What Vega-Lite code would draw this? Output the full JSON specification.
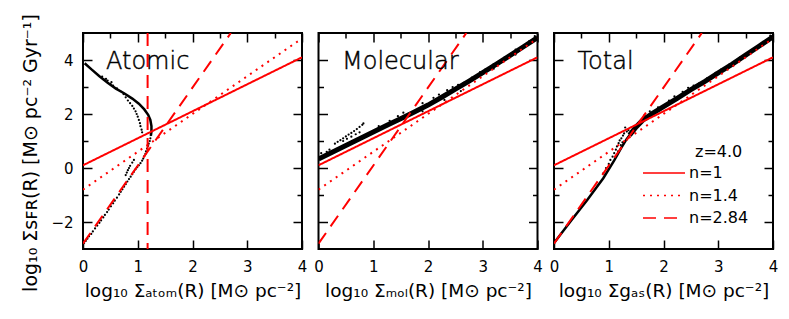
{
 "$schema": "https://vega.github.io/schema/vega-lite/v6.json",
 "background": "white",
 "padding": {"left": 20, "top": 12, "right": 5, "bottom": 5},
 "spacing": 16.5,
 "bounds": "flush",
 "datasets": {
  "fits": [
   {"n": "n=1", "x": 0, "y": 0.1}, {"n": "n=1", "x": 4, "y": 4.1},
   {"n": "n=1.4", "x": 0, "y": -0.8}, {"n": "n=1.4", "x": 4, "y": 4.8},
   {"n": "n=2.84", "x": 0, "y": -2.8}, {"n": "n=2.84", "x": 2.7, "y": 5.0}
  ],
  "atomic_line": [
   {"i": 1, "x": 0.03, "y": 3.88}, {"i": 2, "x": 0.15, "y": 3.66}, {"i": 3, "x": 0.3, "y": 3.4},
   {"i": 4, "x": 0.45, "y": 3.16}, {"i": 5, "x": 0.6, "y": 2.94}, {"i": 6, "x": 0.75, "y": 2.77},
   {"i": 7, "x": 0.9, "y": 2.57}, {"i": 8, "x": 1.02, "y": 2.38}, {"i": 9, "x": 1.12, "y": 2.17},
   {"i": 10, "x": 1.19, "y": 1.97}, {"i": 11, "x": 1.23, "y": 1.78}, {"i": 12, "x": 1.25, "y": 1.55},
   {"i": 13, "x": 1.25, "y": 1.35}, {"i": 14, "x": 1.24, "y": 1.2}
  ],
  "atomic_dots": [
   {"x": 1.24, "y": 1.22}, {"x": 1.23, "y": 1.1}, {"x": 1.22, "y": 1.0}, {"x": 1.2, "y": 0.9},
   {"x": 1.19, "y": 0.82}, {"x": 1.17, "y": 0.72}, {"x": 1.15, "y": 0.62}, {"x": 1.14, "y": 0.52},
   {"x": 1.12, "y": 0.44}, {"x": 1.1, "y": 0.35}, {"x": 1.08, "y": 0.27}, {"x": 1.05, "y": 0.18},
   {"x": 1.02, "y": 0.1}, {"x": 0.99, "y": 0.03}, {"x": 0.96, "y": -0.05}, {"x": 0.93, "y": -0.14},
   {"x": 0.9, "y": -0.23}, {"x": 0.87, "y": -0.32}, {"x": 0.84, "y": -0.41}, {"x": 0.81, "y": -0.5},
   {"x": 0.78, "y": -0.6}, {"x": 0.75, "y": -0.69}, {"x": 0.72, "y": -0.79}, {"x": 0.69, "y": -0.88},
   {"x": 0.66, "y": -0.98}, {"x": 0.62, "y": -1.1}, {"x": 0.58, "y": -1.21}, {"x": 0.55, "y": -1.31},
   {"x": 0.51, "y": -1.42}, {"x": 0.47, "y": -1.54}, {"x": 0.44, "y": -1.63}, {"x": 0.4, "y": -1.74},
   {"x": 0.37, "y": -1.83}, {"x": 0.33, "y": -1.94}, {"x": 0.3, "y": -2.03}, {"x": 0.26, "y": -2.13},
   {"x": 0.22, "y": -2.24}, {"x": 0.18, "y": -2.35}, {"x": 0.15, "y": -2.44}, {"x": 0.11, "y": -2.53},
   {"x": 0.08, "y": -2.62}, {"x": 0.05, "y": -2.7}, {"x": 0.02, "y": -2.78},
   {"x": 0.86, "y": 0.08}, {"x": 0.84, "y": 0.0}, {"x": 0.82, "y": -0.08}, {"x": 0.8, "y": -0.17},
   {"x": 0.78, "y": -0.26}, {"x": 0.9, "y": 0.2}, {"x": 0.93, "y": 0.3},
   {"x": 0.5, "y": 3.12}, {"x": 0.55, "y": 3.05}, {"x": 0.62, "y": 2.95}, {"x": 0.68, "y": 2.85},
   {"x": 0.74, "y": 2.74}, {"x": 0.78, "y": 2.62}, {"x": 0.82, "y": 2.5}, {"x": 0.86, "y": 2.4},
   {"x": 0.9, "y": 2.3}, {"x": 0.93, "y": 2.2}, {"x": 0.96, "y": 2.1}, {"x": 0.98, "y": 2.0},
   {"x": 1.0, "y": 1.9}, {"x": 1.02, "y": 1.78}, {"x": 1.04, "y": 1.66}, {"x": 1.05, "y": 1.55},
   {"x": 1.07, "y": 1.42}, {"x": 1.08, "y": 1.32},
   {"x": 0.35, "y": 3.38}, {"x": 0.42, "y": 3.3}, {"x": 0.45, "y": 3.24}, {"x": 0.52, "y": 3.18}, {"x": 0.38, "y": 3.28}
  ],
  "mol_line": [
   {"x": 0.0, "y": 0.33}, {"x": 0.25, "y": 0.58}, {"x": 0.5, "y": 0.83}, {"x": 0.75, "y": 1.08},
   {"x": 1.0, "y": 1.33}, {"x": 1.25, "y": 1.58}, {"x": 1.5, "y": 1.82}, {"x": 1.75, "y": 2.07},
   {"x": 2.0, "y": 2.33}, {"x": 2.25, "y": 2.62}, {"x": 2.5, "y": 2.92}, {"x": 2.75, "y": 3.22},
   {"x": 3.0, "y": 3.53}, {"x": 3.25, "y": 3.85}, {"x": 3.5, "y": 4.17}, {"x": 3.75, "y": 4.5},
   {"x": 4.0, "y": 4.83}
  ],
  "mol_dots": [
   {"x": 0.3, "y": 0.9}, {"x": 0.35, "y": 0.97}, {"x": 0.4, "y": 1.03}, {"x": 0.45, "y": 1.1},
   {"x": 0.5, "y": 1.17}, {"x": 0.55, "y": 1.24}, {"x": 0.6, "y": 1.3}, {"x": 0.65, "y": 1.37},
   {"x": 0.7, "y": 1.44}, {"x": 0.75, "y": 1.52}, {"x": 0.8, "y": 1.6}, {"x": 0.82, "y": 1.65},
   {"x": 0.45, "y": 1.0}, {"x": 0.52, "y": 1.08}, {"x": 0.6, "y": 1.16}, {"x": 0.68, "y": 1.25}, {"x": 0.75, "y": 1.32},
   {"x": 0.05, "y": 0.55}, {"x": 0.15, "y": 0.6}, {"x": 0.2, "y": 0.68}, {"x": 1.1, "y": 1.55},
   {"x": 1.3, "y": 1.75}, {"x": 1.45, "y": 1.92}, {"x": 1.55, "y": 2.05}, {"x": 1.9, "y": 2.4},
   {"x": 2.1, "y": 2.6}, {"x": 2.2, "y": 2.72}, {"x": 2.35, "y": 2.88}, {"x": 2.45, "y": 3.0},
   {"x": 2.55, "y": 3.08}, {"x": 2.65, "y": 3.15}, {"x": 2.8, "y": 3.35}, {"x": 2.95, "y": 3.55},
   {"x": 3.05, "y": 3.65}, {"x": 3.2, "y": 3.85}, {"x": 3.4, "y": 4.1}, {"x": 3.6, "y": 4.38},
   {"x": 3.85, "y": 4.7}, {"x": 3.95, "y": 4.88},
   {"x": 1.9, "y": 2.1}, {"x": 2.3, "y": 2.52}, {"x": 2.6, "y": 2.85}, {"x": 3.2, "y": 3.68}, {"x": 3.6, "y": 4.2}
  ],
  "tot_low": [
   {"x": 0.0, "y": -2.78}, {"x": 0.3, "y": -1.98}, {"x": 0.6, "y": -1.2}, {"x": 0.9, "y": -0.38},
   {"x": 1.1, "y": 0.28}, {"x": 1.22, "y": 0.72}, {"x": 1.32, "y": 1.05}, {"x": 1.42, "y": 1.32}
  ],
  "tot_high": [
   {"x": 1.38, "y": 1.22}, {"x": 1.5, "y": 1.52}, {"x": 1.62, "y": 1.77}, {"x": 1.8, "y": 2.02},
   {"x": 2.0, "y": 2.27}, {"x": 2.25, "y": 2.58}, {"x": 2.5, "y": 2.9}, {"x": 2.75, "y": 3.2},
   {"x": 3.0, "y": 3.52}, {"x": 3.25, "y": 3.84}, {"x": 3.5, "y": 4.18}, {"x": 3.75, "y": 4.52},
   {"x": 4.0, "y": 4.86}
  ],
  "tot_dots": [
   {"x": 0.9, "y": -0.2}, {"x": 0.95, "y": 0.0}, {"x": 1.0, "y": 0.15}, {"x": 1.03, "y": 0.3},
   {"x": 1.07, "y": 0.42}, {"x": 1.1, "y": 0.55}, {"x": 1.13, "y": 0.68}, {"x": 1.15, "y": 0.8},
   {"x": 1.18, "y": 0.92}, {"x": 1.2, "y": 1.02}, {"x": 1.23, "y": 1.1}, {"x": 1.26, "y": 1.2},
   {"x": 1.28, "y": 1.28}, {"x": 1.3, "y": 1.5}, {"x": 1.33, "y": 1.35}, {"x": 1.36, "y": 1.4},
   {"x": 1.17, "y": 0.62}, {"x": 1.22, "y": 0.85}, {"x": 1.25, "y": 0.95},
   {"x": 1.9, "y": 2.25}, {"x": 2.1, "y": 2.5}, {"x": 2.2, "y": 2.65}, {"x": 2.35, "y": 2.82},
   {"x": 2.45, "y": 2.97}, {"x": 2.55, "y": 3.05}, {"x": 2.65, "y": 3.13}, {"x": 2.8, "y": 3.33},
   {"x": 2.95, "y": 3.52}, {"x": 3.05, "y": 3.64}, {"x": 3.2, "y": 3.83}, {"x": 3.4, "y": 4.1},
   {"x": 3.6, "y": 4.36}, {"x": 3.85, "y": 4.7}, {"x": 3.95, "y": 4.9}, {"x": 1.75, "y": 2.1}, {"x": 1.65, "y": 1.95}
  ]
 },
 "hconcat": [
  {
   "width": 219, "height": 216,
   "resolve": {"axis": {"x": "independent", "y": "independent"}},
   "layer": [
    {
     "data": {"name": "atomic_line"},
     "mark": {"type": "line", "color": "black", "strokeWidth": 2.5, "clip": true},
     "encoding": {
      "x": {"field": "x", "type": "quantitative", "scale": {"domain": [0, 4], "nice": false, "zero": false},
       "axis": {"values": [0, 0.5, 1, 1.5, 2, 2.5, 3, 3.5, 4], "format": "d", "labelExpr": "datum.value % 1 === 0 ? datum.label : ''", "title": "log₁₀ Σₐₜₒₘ(R) [M⊙ pc⁻²]", "tickSize": {"expr": "datum.value % 1 === 0 ? -9 : -5"}, "labelPadding": 19}},
      "y": {"field": "y", "type": "quantitative", "scale": {"domain": [-3, 5], "nice": false, "zero": false},
       "axis": {"values": [-2, -1, 0, 1, 2, 3, 4], "labelExpr": "datum.value % 2 === 0 ? datum.label : ''", "title": "log₁₀ Σꜱꜰʀ(R) [M⊙ pc⁻² Gyr⁻¹]", "titleFontSize": 19, "titlePadding": 10, "titleY": 119.5, "tickSize": {"expr": "datum.value % 2 === 0 ? -9 : -5"}, "labelPadding": 19}},
      "order": {"field": "i", "type": "quantitative"}
     }
    },
    {
     "data": {"name": "atomic_dots"},
     "mark": {"type": "circle", "color": "black", "size": 5, "opacity": 1, "clip": true},
     "encoding": {
      "x": {"field": "x", "type": "quantitative", "axis": null},
      "y": {"field": "y", "type": "quantitative", "axis": null}
     }
    },
    {
     "data": {"name": "fits"},
     "mark": {"type": "line", "color": "#ff0000", "strokeWidth": 2, "clip": true},
     "encoding": {
      "x": {"field": "x", "type": "quantitative",
       "axis": {"orient": "top", "values": [0, 0.5, 1, 1.5, 2, 2.5, 3, 3.5, 4], "labels": false, "title": null, "tickSize": {"expr": "datum.value % 1 === 0 ? -9 : -5"}}},
      "y": {"field": "y", "type": "quantitative",
       "axis": {"orient": "right", "values": [-2, -1, 0, 1, 2, 3, 4], "labels": false, "title": null, "tickSize": {"expr": "datum.value % 2 === 0 ? -9 : -5"}}},
      "strokeDash": {"field": "n", "type": "nominal", "scale": {"domain": ["n=1", "n=1.4", "n=2.84"], "range": [[1, 0], [2, 5], [13, 8]]}, "legend": null}
     }
    },
    {
     "data": {"values": [{}]},
     "mark": {"type": "rule", "color": "#ff0000", "strokeWidth": 2, "strokeDash": [13, 8]},
     "encoding": {"x": {"datum": 1.18, "type": "quantitative", "axis": null}}
    },
    {
     "data": {"values": [{"label": "Atomic"}]},
     "mark": {"type": "text", "align": "left", "baseline": "middle", "font": "DejaVu Sans", "fontSize": 24, "fontWeight": 200, "color": "black", "stroke": "black", "strokeWidth": 0.45},
     "encoding": {
      "x": {"datum": 0.42, "type": "quantitative", "axis": null},
      "y": {"datum": 3.93, "type": "quantitative", "axis": null},
      "text": {"field": "label"}
     }
    }
   ]
  },
  {
   "width": 219, "height": 216,
   "resolve": {"axis": {"x": "independent", "y": "independent"}},
   "layer": [
    {
     "data": {"name": "mol_line"},
     "mark": {"type": "line", "color": "black", "strokeWidth": 5, "clip": true},
     "encoding": {
      "x": {"field": "x", "type": "quantitative", "scale": {"domain": [0, 4], "nice": false, "zero": false},
       "axis": {"values": [0, 0.5, 1, 1.5, 2, 2.5, 3, 3.5, 4], "format": "d", "labelExpr": "datum.value % 1 === 0 ? datum.label : ''", "title": "log₁₀ Σₘₒₗ(R) [M⊙ pc⁻²]", "tickSize": {"expr": "datum.value % 1 === 0 ? -9 : -5"}, "labelPadding": 19}},
      "y": {"field": "y", "type": "quantitative", "scale": {"domain": [-3, 5], "nice": false, "zero": false},
       "axis": {"values": [-2, -1, 0, 1, 2, 3, 4], "labels": false, "title": null, "tickSize": {"expr": "datum.value % 2 === 0 ? -9 : -5"}}}
     }
    },
    {
     "data": {"name": "mol_dots"},
     "mark": {"type": "circle", "color": "black", "size": 5, "opacity": 1, "clip": true},
     "encoding": {
      "x": {"field": "x", "type": "quantitative", "axis": null},
      "y": {"field": "y", "type": "quantitative", "axis": null}
     }
    },
    {
     "data": {"name": "fits"},
     "mark": {"type": "line", "color": "#ff0000", "strokeWidth": 2, "clip": true},
     "encoding": {
      "x": {"field": "x", "type": "quantitative",
       "axis": {"orient": "top", "values": [0, 0.5, 1, 1.5, 2, 2.5, 3, 3.5, 4], "labels": false, "title": null, "tickSize": {"expr": "datum.value % 1 === 0 ? -9 : -5"}}},
      "y": {"field": "y", "type": "quantitative",
       "axis": {"orient": "right", "values": [-2, -1, 0, 1, 2, 3, 4], "labels": false, "title": null, "tickSize": {"expr": "datum.value % 2 === 0 ? -9 : -5"}}},
      "strokeDash": {"field": "n", "type": "nominal", "scale": {"domain": ["n=1", "n=1.4", "n=2.84"], "range": [[1, 0], [2, 5], [13, 8]]}, "legend": null}
     }
    },
    {
     "data": {"values": [{"label": "Molecular"}]},
     "mark": {"type": "text", "align": "left", "baseline": "middle", "font": "DejaVu Sans", "fontSize": 24, "fontWeight": 200, "color": "black", "stroke": "black", "strokeWidth": 0.45},
     "encoding": {
      "x": {"datum": 0.43, "type": "quantitative", "axis": null},
      "y": {"datum": 3.93, "type": "quantitative", "axis": null},
      "text": {"field": "label"}
     }
    }
   ]
  },
  {
   "width": 219, "height": 216,
   "resolve": {"axis": {"x": "independent", "y": "independent"}},
   "layer": [
    {
     "data": {"name": "tot_low"},
     "mark": {"type": "line", "color": "black", "strokeWidth": 2.5, "clip": true},
     "encoding": {
      "x": {"field": "x", "type": "quantitative", "scale": {"domain": [0, 4], "nice": false, "zero": false},
       "axis": {"values": [0, 0.5, 1, 1.5, 2, 2.5, 3, 3.5, 4], "format": "d", "labelExpr": "datum.value % 1 === 0 ? datum.label : ''", "title": "log₁₀ Σgₐₛ(R) [M⊙ pc⁻²]", "tickSize": {"expr": "datum.value % 1 === 0 ? -9 : -5"}, "labelPadding": 19}},
      "y": {"field": "y", "type": "quantitative", "scale": {"domain": [-3, 5], "nice": false, "zero": false},
       "axis": {"values": [-2, -1, 0, 1, 2, 3, 4], "labels": false, "title": null, "tickSize": {"expr": "datum.value % 2 === 0 ? -9 : -5"}}}
     }
    },
    {
     "data": {"name": "tot_high"},
     "mark": {"type": "line", "color": "black", "strokeWidth": 5, "clip": true},
     "encoding": {
      "x": {"field": "x", "type": "quantitative", "axis": null},
      "y": {"field": "y", "type": "quantitative", "axis": null}
     }
    },
    {
     "data": {"name": "tot_dots"},
     "mark": {"type": "circle", "color": "black", "size": 5, "opacity": 1, "clip": true},
     "encoding": {
      "x": {"field": "x", "type": "quantitative", "axis": null},
      "y": {"field": "y", "type": "quantitative", "axis": null}
     }
    },
    {
     "data": {"name": "fits"},
     "mark": {"type": "line", "color": "#ff0000", "strokeWidth": 2, "clip": true},
     "encoding": {
      "x": {"field": "x", "type": "quantitative",
       "axis": {"orient": "top", "values": [0, 0.5, 1, 1.5, 2, 2.5, 3, 3.5, 4], "labels": false, "title": null, "tickSize": {"expr": "datum.value % 1 === 0 ? -9 : -5"}}},
      "y": {"field": "y", "type": "quantitative",
       "axis": {"orient": "right", "values": [-2, -1, 0, 1, 2, 3, 4], "labels": false, "title": null, "tickSize": {"expr": "datum.value % 2 === 0 ? -9 : -5"}}},
      "strokeDash": {"field": "n", "type": "nominal", "scale": {"domain": ["n=1", "n=1.4", "n=2.84"], "range": [[1, 0], [2, 5], [13, 8]]},
       "legend": {"orient": "none", "legendX": 88, "legendY": 111, "title": "z=4.0", "titleFontSize": 16, "titleFontWeight": "normal", "titleAnchor": "middle", "titleAlign": "left", "labelFontSize": 16, "symbolType": "stroke", "symbolSize": 1764, "symbolStrokeWidth": 1.5, "clipHeight": 18, "rowPadding": 4.5, "labelOffset": 3, "titlePadding": 4, "padding": 0,
        "encode": {"symbols": {"stroke": {"value": "black"}}}}}
     }
    },
    {
     "data": {"values": [{"label": "Total"}]},
     "mark": {"type": "text", "align": "left", "baseline": "middle", "font": "DejaVu Sans", "fontSize": 24, "fontWeight": 200, "color": "black", "stroke": "black", "strokeWidth": 0.45},
     "encoding": {
      "x": {"datum": 0.43, "type": "quantitative", "axis": null},
      "y": {"datum": 3.93, "type": "quantitative", "axis": null},
      "text": {"field": "label"}
     }
    }
   ]
  }
 ],
 "resolve": {"scale": {"strokeDash": "independent"}, "legend": {"strokeDash": "independent"}},
 "config": {
  "font": "DejaVu Sans",
  "view": {"stroke": "black", "strokeWidth": 2},
  "axis": {
   "domain": false, "grid": false, "tickColor": "black", "tickWidth": 1.5,
   "labelFont": "DejaVu Sans", "labelFontSize": 15, "labelColor": "black", "labelPadding": 10,
   "labelFlush": false, "labelOverlap": false,
   "titleFont": "DejaVu Sans", "titleFontSize": 18.5, "titleFontWeight": "normal", "titleColor": "black", "titlePadding": 7
  },
  "legend": {"labelFont": "DejaVu Sans", "titleFont": "DejaVu Sans", "labelColor": "black", "titleColor": "black"}
 }
}
